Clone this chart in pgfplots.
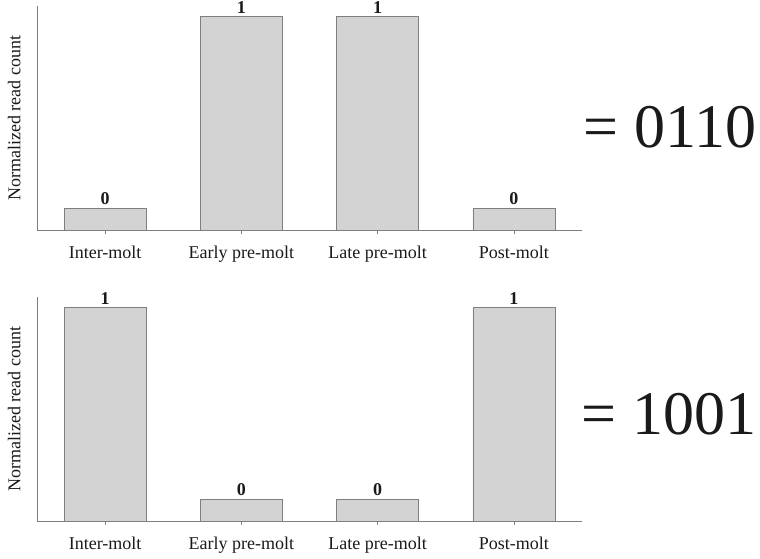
\documentclass[border=0pt]{standalone}
\usepackage{fontspec}
\setmainfont{Liberation Serif}
\usepackage{pgfplots}
\pgfplotsset{compat=1.18}
\definecolor{barfill}{HTML}{D3D3D3}
\definecolor{axgray}{HTML}{7F7F7F}
\definecolor{txt}{HTML}{1A1A1A}
\pgfplotsset{
  panel/.style={
    scale only axis, width=545pt, height=224pt,
    xmin=-0.5, xmax=3.5, ymin=0, ymax=1.05,
    axis x line*=bottom, axis y line*=left,
    axis line style={axgray,-,line width=0.8pt},
    ytick=\empty, xtick={0,1,2,3},
    xticklabels={Inter-molt,Early pre-molt,Late pre-molt,Post-molt},
    xtick align=outside, major tick length=4pt,
    tick style={axgray,line width=0.6pt},
    xticklabel style={font=\fontsize{18}{18}\selectfont, text=txt, yshift=-8pt},
    ylabel={Normalized read count},
    ylabel style={at={(axis description cs:-0.042,0.5)}, anchor=center,
      font=\fontsize{18}{18}\selectfont, text=txt},
    ybar, bar width=82pt,
    nodes near coords, point meta=explicit symbolic,
    every node near coord/.append style={font=\bfseries\fontsize{18}{18}\selectfont, text=txt},
  }
}
\begin{document}
\begin{tikzpicture}
\path[use as bounding box] (0,0) rectangle (760pt,-558pt);
\begin{axis}[panel, at={(37pt,-230pt)}, anchor=south west]
\addplot[fill=barfill, draw=axgray, line width=0.6pt] coordinates {(0,0.1) [0] (1,1) [1] (2,1) [1] (3,0.1) [0]};
\end{axis}
\begin{axis}[panel, at={(37pt,-521pt)}, anchor=south west]
\addplot[fill=barfill, draw=axgray, line width=0.6pt] coordinates {(0,1) [1] (1,0.1) [0] (2,0.1) [0] (3,1) [1]};
\end{axis}
\node[font=\fontsize{62}{62}\selectfont, text=txt] at (670pt,-127pt) {= 0110};
\node[font=\fontsize{62}{62}\selectfont, text=txt] at (669pt,-414pt) {= 1001};
\end{tikzpicture}
\end{document}
